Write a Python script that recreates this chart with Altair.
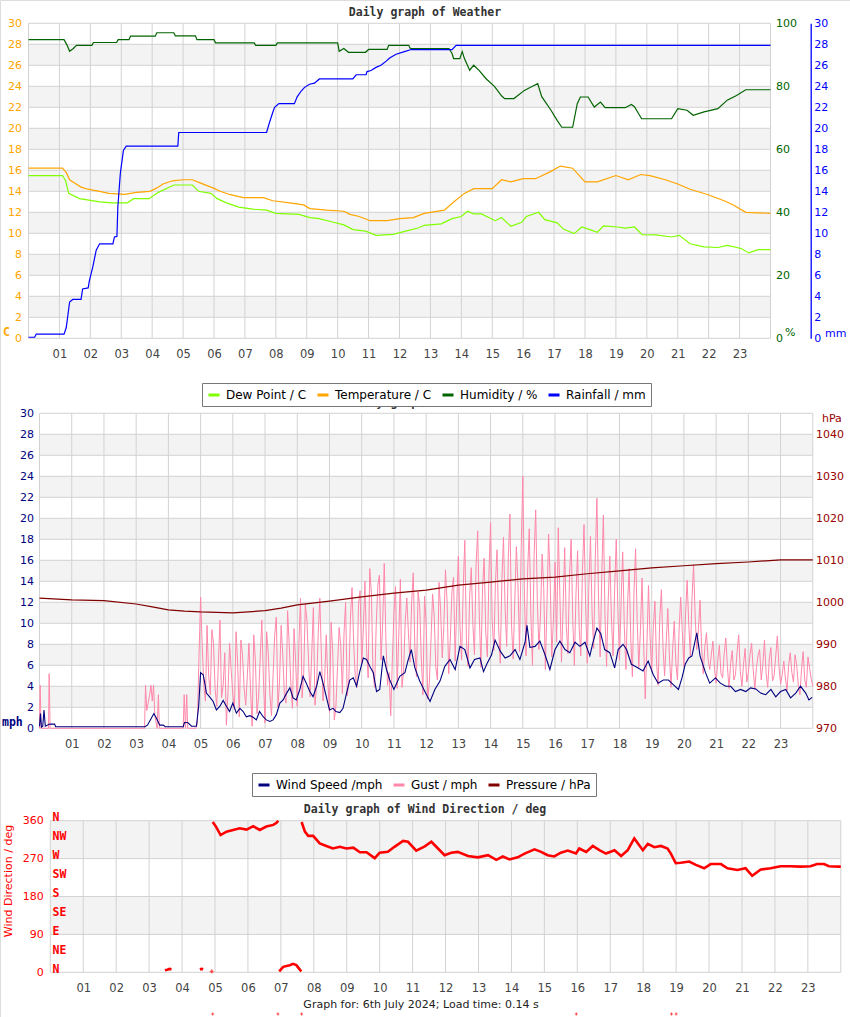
import altair as alt
import pandas as pd

W, H = 850, 1017
FONT = "DejaVu Sans"
MONO = "DejaVu Sans Mono"
GRID = "#d2d2d2"
BAND = "#f3f3f3"

# ------------------------------------------------------------------ data
HOURS = list(range(1, 24))
VHOURS = list(range(0, 25))

names1 = ["Dew Point / C", "Temperature / C", "Humidity / %", "Rainfall / mm"]
colors1 = ["#80ff00", "#ffa500", "#006400", "#0000ff"]
names2 = ["Wind Speed /mph", "Gust / mph", "Pressure / hPa"]
colors2 = ["#000080", "#ff88aa", "#800000"]

temp_h = [0, 1.1, 1.22, 1.33, 1.49, 1.7, 1.92, 2.3, 2.6, 3.1,
          3.5, 3.93, 4.14, 4.35, 4.66, 5.0, 5.3, 5.55, 5.98, 6.2,
          6.5, 6.95, 7.6, 7.9, 8.45, 8.9, 9.1, 9.65, 10.2, 10.4,
          10.7, 11.05, 11.6, 12.0, 12.45, 12.8, 13.45, 13.8, 14.1, 14.4,
          15.0, 15.3, 15.6, 16.0, 16.4, 16.9, 17.2, 17.6, 18.0, 18.4,
          19.0, 19.4, 19.8, 20.1, 20.6, 21.0, 21.4, 21.96, 22.5, 22.8,
          23.2, 24.0]
temp_v = [16.2, 16.2, 15.8, 15.1, 14.8, 14.4, 14.2, 14.0, 13.8, 13.7,
          13.9, 14.0, 14.3, 14.7, 15.0, 15.1, 15.1, 14.8, 14.3, 14.0,
          13.7, 13.4, 13.4, 13.1, 12.9, 12.7, 12.35, 12.2, 12.1, 11.8,
          11.6, 11.2, 11.2, 11.4, 11.5, 11.9, 12.2, 13.1, 13.8, 14.25,
          14.25, 15.1, 14.9, 15.2, 15.2, 15.9, 16.4, 16.2, 14.9, 14.9,
          15.5, 15.1, 15.6, 15.5, 15.1, 14.7, 14.2, 13.7, 13.1, 12.7,
          12.0, 11.9]

dew_h = [0, 1.1, 1.2, 1.3, 1.65, 2.3, 2.7, 3.2, 3.4, 3.9,
         4.2, 4.7, 5.3, 5.5, 5.9, 6.1, 6.4, 6.8, 7.25, 7.7,
         8.0, 8.75, 9.1, 9.4, 9.8, 10.2, 10.5, 10.9, 11.25, 11.8,
         12.2, 12.6, 12.8, 13.35, 13.7, 14.0, 14.2, 14.4, 14.65, 15.1,
         15.3, 15.6, 15.95, 16.1, 16.5, 16.7, 17.1, 17.3, 17.65, 17.9,
         18.2, 18.4, 18.6, 19.05, 19.3, 19.6, 19.85, 20.3, 20.8, 21.05,
         21.4, 21.85, 22.3, 22.6, 23.05, 23.3, 23.6, 24.0]
dew_v = [15.5, 15.5, 15.0, 13.8, 13.3, 13.0, 12.9, 12.9, 13.3, 13.3,
         13.9, 14.6, 14.6, 14.0, 13.8, 13.3, 12.9, 12.5, 12.3, 12.2,
         11.9, 11.8, 11.5, 11.4, 11.1, 10.8, 10.35, 10.2, 9.8, 9.9,
         10.2, 10.5, 10.76, 10.9, 11.4, 11.6, 12.1, 11.85, 11.85, 11.2,
         11.5, 10.67, 11.05, 11.6, 12.0, 11.3, 11.0, 10.4, 9.97, 10.6,
         10.3, 10.1, 10.7, 10.6, 10.5, 10.6, 9.87, 9.85, 9.65, 9.8,
         9.0, 8.7, 8.65, 8.85, 8.55, 8.13, 8.44, 8.44]

hum_pts = [(0, 94.8), (1.15, 94.8), (1.25, 93.0), (1.33, 91.1), (1.45, 92.0), (1.55, 93.0),
           (2.05, 93.0), (2.1, 93.9), (2.85, 93.9), (2.9, 94.8), (3.25, 94.8), (3.3, 95.9),
           (4.1, 95.9), (4.15, 97.0), (4.7, 97.0), (4.75, 96.0), (5.4, 96.0), (5.45, 94.8),
           (6.0, 94.8), (6.05, 93.8), (7.3, 93.8), (7.35, 93.0), (8.0, 93.0), (8.05, 93.8),
           (10.0, 93.8), (10.05, 91.1), (10.2, 92.0), (10.35, 90.8), (10.9, 90.8), (11.0, 91.7),
           (11.6, 91.7), (11.65, 93.0), (12.3, 93.0), (12.35, 92.0), (13.6, 92.0), (13.7, 90.4),
           (13.75, 88.8), (13.95, 88.8), (14.03, 91.0), (14.1, 88.8), (14.27, 85.1), (14.4, 86.7),
           (14.58, 85.0), (14.8, 82.4), (15.07, 80.0), (15.3, 77.0), (15.4, 76.1), (15.7, 76.1),
           (16.04, 78.7), (16.3, 80.0), (16.47, 80.85), (16.6, 76.7), (16.9, 72.4), (17.1, 69.2),
           (17.25, 67.0), (17.6, 67.0), (17.75, 74.5), (17.85, 76.6), (18.1, 76.6), (18.3, 73.4),
           (18.5, 75.0), (18.65, 73.2), (19.3, 73.2), (19.5, 74.2), (19.6, 73.5), (19.83, 69.7),
           (20.8, 69.7), (21.0, 72.9), (21.3, 72.4), (21.5, 70.8), (21.85, 71.9), (22.3, 72.9),
           (22.6, 75.6), (22.9, 77.1), (23.2, 78.9), (24.0, 78.9)]

rain_pts = [(0, 0.1), (0.2, 0.1), (0.25, 0.4), (1.15, 0.4), (1.22, 1.0), (1.33, 3.46), (1.43, 3.7),
            (1.7, 3.7), (1.75, 4.7), (1.93, 4.8), (1.97, 5.5), (2.08, 6.8), (2.19, 8.4), (2.3, 9.0),
            (2.73, 9.0), (2.78, 9.65), (2.86, 9.7), (2.89, 12.5), (2.97, 15.7), (3.07, 17.9),
            (3.16, 18.3), (4.83, 18.3), (4.86, 19.6), (7.7, 19.6), (7.8, 20.6), (7.9, 21.5),
            (7.96, 22.0), (8.1, 22.35), (8.6, 22.35), (8.69, 23.0), (8.82, 23.55), (8.93, 23.9),
            (9.09, 24.2), (9.25, 24.3), (9.41, 24.7), (10.49, 24.7), (10.6, 25.1), (10.92, 25.1),
            (10.95, 25.4), (11.08, 25.5), (11.24, 25.8), (11.4, 26.0), (11.57, 26.4), (11.68, 26.7),
            (11.89, 27.05), (12.16, 27.3), (12.38, 27.5), (13.7, 27.5), (13.83, 27.9), (24.0, 27.9)]

wind_pts = [(0.0, 0.2), (0.03, 1.4), (0.06, 0.1), (0.1, 0.2), (0.14, 1.75), (0.18, 0.2), (0.32, 0.4),
            (0.47, 0.4), (0.5, 0.15), (3.27, 0.15), (3.35, 0.3), (3.47, 0.95), (3.55, 1.4), (3.63, 0.95),
            (3.73, 0.3), (3.84, 0.3), (3.9, 0.15), (4.46, 0.15), (4.5, 0.55), (4.6, 0.55), (4.72, 0.2),
            (4.87, 0.2), (4.94, 2.1), (5.0, 5.3), (5.08, 5.1), (5.13, 4.3), (5.18, 3.35), (5.28, 3.0),
            (5.39, 2.55), (5.49, 1.75), (5.6, 2.1), (5.7, 2.65), (5.8, 2.1), (5.9, 1.6), (6.0, 2.4),
            (6.11, 1.45), (6.22, 1.9), (6.32, 1.6), (6.42, 1.1), (6.53, 1.2), (6.63, 1.05), (6.73, 0.8),
            (6.83, 1.6), (6.94, 1.1), (7.04, 0.8), (7.15, 0.65), (7.25, 0.8), (7.35, 1.3), (7.46, 2.4),
            (7.56, 2.7), (7.67, 3.35), (7.77, 3.85), (7.87, 2.9), (7.97, 2.7), (8.08, 3.7), (8.18, 4.95),
            (8.28, 4.3), (8.39, 3.5), (8.49, 3.0), (8.6, 4.0), (8.7, 5.4), (8.8, 4.3), (8.91, 2.9),
            (9.0, 1.75), (9.11, 1.9), (9.2, 1.6), (9.32, 1.5), (9.42, 1.9), (9.53, 3.35), (9.63, 4.6),
            (9.74, 4.8), (9.84, 4.0), (9.94, 5.4), (10.05, 6.7), (10.15, 6.55), (10.25, 5.9), (10.36, 5.3),
            (10.46, 3.5), (10.56, 3.7), (10.67, 6.9), (10.77, 5.6), (10.87, 4.6), (11.0, 3.7), (11.18, 4.95),
            (11.34, 5.3), (11.44, 6.5), (11.54, 7.5), (11.65, 5.75), (11.8, 4.5), (11.96, 3.5), (12.12, 2.55),
            (12.27, 3.7), (12.43, 4.5), (12.58, 5.9), (12.74, 6.55), (12.9, 5.6), (13.05, 7.8), (13.2, 7.5),
            (13.36, 5.75), (13.5, 6.55), (13.67, 6.7), (13.78, 5.4), (13.88, 6.1), (14.03, 7.0), (14.14, 8.4),
            (14.3, 7.35), (14.45, 6.7), (14.6, 6.9), (14.76, 7.5), (14.91, 6.55), (15.07, 8.2), (15.13, 9.8),
            (15.22, 7.7), (15.38, 7.8), (15.53, 8.3), (15.69, 7.0), (15.84, 5.6), (16.0, 7.5), (16.15, 8.3),
            (16.31, 7.5), (16.46, 7.2), (16.62, 8.2), (16.77, 7.8), (16.93, 8.2), (17.08, 6.9), (17.18, 8.2),
            (17.3, 9.55), (17.42, 9.0), (17.54, 7.5), (17.7, 7.2), (17.85, 5.75), (17.96, 7.5), (18.11, 8.0),
            (18.22, 7.5), (18.37, 6.1), (18.58, 5.75), (18.73, 5.45), (18.89, 6.4), (19.05, 5.1), (19.2, 4.3),
            (19.36, 4.6), (19.52, 4.6), (19.67, 4.15), (19.83, 3.7), (19.94, 4.8), (20.04, 6.1), (20.15, 6.7),
            (20.25, 6.9), (20.4, 9.1), (20.5, 6.9), (20.67, 5.3), (20.8, 4.3), (20.98, 4.8), (21.13, 4.3),
            (21.3, 4.0), (21.45, 4.0), (21.6, 3.5), (21.76, 3.7), (21.92, 3.5), (22.07, 3.85), (22.23, 3.75),
            (22.38, 3.35), (22.54, 3.2), (22.7, 3.7), (22.85, 3.0), (23.0, 3.5), (23.16, 3.7), (23.31, 2.9),
            (23.47, 3.35), (23.62, 4.0), (23.78, 3.35), (23.88, 2.7), (23.98, 2.95)]

gust_early = [(0.0, 0), (0.02, 4.1), (0.05, 0), (0.28, 0), (0.3, 5.2), (0.33, 0), (3.26, 0),
              (3.29, 4.1), (3.33, 1.7), (3.37, 2.4), (3.42, 3.2), (3.46, 4.1), (3.5, 2.6), (3.54, 4.1),
              (3.58, 1.2), (3.65, 0), (3.69, 3.2), (3.72, 0), (4.46, 0), (4.49, 3.2), (4.53, 0),
              (4.57, 3.2), (4.6, 0), (4.85, 0)]
gust_start, gust_step = 4.9, 0.1   # sampling grid of the readings below (mid readings sit half a step later)
gust_v = [0.5, 12.5, 4.1, 9.8, 3.2, 8.1, 2.1, 10.3, 4.1, 0.3,
          8.1, 3.2, 9.2, 1.1, 7.0, 2.2, 8.1, 0.2, 6.5, 3.0,
          10.3, 0.5, 7.1, 1.2, 8.9, 2.0, 9.8, 3.2, 11.2, 4.3,
          9.5, 2.1, 12.4, 5.2, 10.3, 3.0, 11.5, 4.1, 12.4, 2.6,
          8.9, 1.5, 7.4, 2.1, 9.6, 3.3, 12.0, 4.5, 13.4, 5.0,
          11.8, 6.1, 14.0, 4.8, 12.9, 3.9, 13.6, 6.5, 15.7, 4.1,
          1.2, 11.0, 3.8, 14.2, 5.5, 12.4, 6.3, 14.8, 4.9, 11.6,
          3.2, 10.1, 4.4, 12.8, 5.8, 13.9, 6.7, 15.1, 5.2, 13.0,
          6.4, 16.4, 6.5, 17.9, 5.9, 15.3, 7.0, 18.8, 5.8, 16.2,
          6.8, 19.6, 7.4, 17.0, 6.2, 18.2, 7.8, 20.4, 6.6, 17.3,
          7.3, 24.0, 6.9, 19.0, 6.0, 20.8, 7.5, 16.6, 5.6, 18.5,
          6.8, 15.8, 19.1, 6.3, 17.2, 7.1, 18.0, 6.0, 16.9, 6.9,
          19.4, 6.2, 18.3, 7.6, 21.9, 6.8, 20.3, 5.9, 16.4, 6.9,
          18.0, 6.5, 16.8, 5.6, 15.2, 4.9, 17.1, 5.8, 14.3, 2.8,
          13.6, 5.4, 12.1, 4.1, 13.2, 5.0, 11.4, 3.9, 10.2, 4.6,
          12.5, 5.9, 14.1, 6.8, 15.6, 7.5, 12.2, 5.2, 9.1, 5.6,
          8.3, 4.3, 7.9, 4.8, 8.6, 3.8, 7.4, 5.1, 8.9, 4.0,
          7.6, 5.3, 8.1, 3.7, 6.9, 4.6, 8.4, 3.9, 7.7, 5.0,
          8.8, 4.2, 6.4, 3.6, 7.2, 4.4, 6.0, 3.2, 7.3, 3.9,
          5.8, 4.0]
gust_mid = [6.8, 7.9, 2.6, 5.0, 9.4, 3.8, 6.0, 2.9, 7.2, 3.4,
            5.5, 1.8, 6.2, 8.4, 3.9, 5.0, 3.6, 8.9, 1.4, 6.7,
            4.6, 9.2, 3.3, 5.1, 10.6, 4.4, 7.0, 2.4, 8.0, 1.9,
            6.3, 8.0, 2.9, 11.8, 6.4, 7.2, 2.2, 9.0, 6.8, 4.7,
            4.4, 10.1, 0.8, 5.9, 7.8, 9.0, 3.1, 10.5, 8.2, 3.9,
            13.1, 9.4, 7.6, 15.2, 5.4, 9.8, 14.6, 10.0, 8.6, 5.3,
            6.4, 13.5, 8.8, 3.9, 10.2, 9.1, 12.0, 7.7, 13.0, 6.6,
            12.6, 2.8, 8.3, 10.7, 4.6, 11.2, 9.8, 12.0, 8.5, 14.4,
            11.9, 9.7, 13.3, 8.4, 12.6, 9.9, 15.6, 10.7, 13.4, 9.1,
            14.8, 10.2, 13.9, 9.6, 14.1, 11.5, 16.3, 9.8, 12.0, 13.6,
            17.2, 12.5, 15.1, 10.8, 16.4, 12.2, 11.0, 13.3, 11.9, 14.0,
            10.4, 8.2, 12.7, 11.5, 9.8, 14.6, 10.3, 12.8, 9.5, 14.9,
            11.7, 13.6, 10.9, 16.2, 12.4, 14.5, 10.8, 12.1, 10.6, 13.2,
            11.4, 12.0, 9.7, 11.8, 8.6, 12.9, 10.2, 9.3, 8.1, 7.7,
            8.7, 9.6, 6.3, 10.4, 7.8, 8.2, 6.9, 7.5, 6.2, 9.3,
            9.2, 10.8, 9.9, 12.3, 10.6, 9.4, 7.6, 7.8, 6.6, 7.0,
            5.6, 6.4, 5.2, 7.1, 5.9, 6.2, 4.6, 7.3, 5.4, 6.1,
            4.4, 7.0, 5.6, 5.8, 7.5, 6.1, 5.3, 6.6, 4.5, 6.9,
            5.9, 5.1, 4.8, 6.0, 5.3, 7.0, 4.1, 5.6, 4.6, 6.8,
            4.7]

press_h = [0, 1, 2, 3, 3.5, 4, 4.5, 5, 6, 7, 7.5, 8, 9, 10, 11, 12, 13, 14, 15, 16, 17, 18, 19, 20,
           21, 22, 23, 24]
press_v = [1001.0, 1000.6, 1000.4, 999.6, 998.9, 998.2, 997.9, 997.7, 997.5, 998.0, 998.6, 999.4,
           1000.3, 1001.3, 1002.2, 1002.9, 1004.1, 1004.8, 1005.6, 1006.0, 1006.8, 1007.5, 1008.2,
           1008.7, 1009.2, 1009.6, 1010.1, 1010.1]

dir_segments = [
    [(3.48, 5), (3.55, 6), (3.62, 8), (3.68, 7)],
    [(4.54, 7), (4.6, 8), (4.64, 7)],
    [(4.93, 357), (5.03, 346), (5.17, 326), (5.35, 334), (5.55, 338), (5.75, 342), (5.96, 339),
     (6.16, 347), (6.36, 338), (6.56, 346), (6.77, 350), (6.87, 355), (6.92, 360)],
    [(6.95, 2), (7.07, 13), (7.27, 17), (7.37, 20), (7.47, 17), (7.57, 7), (7.62, 2)],
    [(7.63, 357), (7.73, 334), (7.83, 324), (7.98, 324), (8.18, 306), (8.38, 300), (8.58, 294),
     (8.79, 298), (8.99, 294), (9.2, 296), (9.4, 285), (9.6, 285), (9.85, 271), (10.0, 284),
     (10.25, 286), (10.45, 298), (10.71, 312), (10.86, 310), (11.11, 289), (11.37, 299), (11.57, 310),
     (11.77, 294), (11.97, 278), (12.17, 284), (12.37, 286), (12.68, 276), (12.98, 273), (13.29, 278),
     (13.54, 267), (13.74, 275), (13.94, 268), (14.19, 273), (14.4, 282), (14.7, 292), (14.9, 286),
     (15.1, 278), (15.3, 275), (15.5, 284), (15.71, 289), (15.96, 282), (16.06, 294), (16.27, 286),
     (16.47, 300), (16.67, 290), (16.87, 282), (17.13, 290), (17.33, 276), (17.53, 290), (17.73, 318),
     (17.99, 290), (18.14, 305), (18.34, 297), (18.54, 300), (18.74, 294), (18.84, 282), (18.99, 259),
     (19.14, 260), (19.4, 263), (19.6, 255), (19.85, 247), (20.05, 257), (20.36, 257), (20.56, 247),
     (20.86, 243), (21.11, 247), (21.31, 229), (21.57, 244), (21.87, 247), (22.17, 252), (22.47, 252),
     (22.78, 251), (23.08, 252), (23.28, 257), (23.49, 257), (23.64, 252), (23.94, 251), (24.0, 251)],
]
dir_single = [(4.9, 2)]
dir_marks_h = [4.93, 6.91, 7.63, 15.97, 18.86, 19.0]
dir_marks_v = [-99, -99, -99, -99, -99, -99]

band_lo_1 = [2, 6, 10, 14, 18, 22, 26]
band_hi_1 = [4, 8, 12, 16, 20, 24, 28]
hlines_1 = list(range(0, 31, 2))
band_lo_3 = [90, 270]
band_hi_3 = [180, 360]
hlines_3 = [0, 90, 180, 270, 360]
compass = ["N", "NE", "E", "SE", "S", "SW", "W", "NW", "N"]

# ------------------------------------------------------------------ frames
def frame(pairs, name):
    return pd.DataFrame({"hour": [p[0] for p in pairs], "value": [p[1] for p in pairs], "series": name})

temp_df = frame(list(zip(temp_h, temp_v)), names1[1])
dew_df = frame(list(zip(dew_h, dew_v)), names1[0])
hum_df = frame(hum_pts, names1[2])
rain_df = frame(rain_pts, names1[3])
wind_df = frame(wind_pts, names2[0])
gust_pairs = list(gust_early)
for i, v in enumerate(gust_v):
    t = round(gust_start + gust_step * i, 3)
    gust_pairs.append((t, v))
    if i < len(gust_mid):
        gust_pairs.append((round(t + gust_step / 2, 3), gust_mid[i]))
gust_df = frame(gust_pairs, names2[1])
press_df = frame(list(zip(press_h, press_v)), names2[2])
dir_rows = []
for k, seg in enumerate(dir_segments):
    for h, d in seg:
        dir_rows.append({"hour": h, "value": d, "seg": k})
dir_df = pd.DataFrame(dir_rows)
dir_pt_df = frame(dir_single, "dir")
dir_mk_df = frame(list(zip(dir_marks_h, dir_marks_v)), "mark")

# ------------------------------------------------------------------ scales
def sc(domain, rng):
    return alt.Scale(domain=domain, range=rng, nice=False, zero=False)

X1 = sc([0, 24], [28.5, 770.5])
T1 = sc([0, 30], [338.3, 23.3])
HU1 = sc([0, 100], [338.3, 23.3])
X2 = sc([0, 24], [39.5, 812.8])
M2 = sc([0, 30], [728.3, 413.3])
P2 = sc([970, 1045], [728.3, 413.3])
X3 = sc([0, 24], [50.3, 840.8])
D3 = sc([0, 360], [972.3, 820.7])

LABX = "datum.value < 10 ? '0' + datum.value : '' + datum.value"


def xax(base_y):
    return alt.Axis(orient="bottom", offset=round(base_y - H, 1), values=HOURS, labelExpr=LABX,
                    domain=False, ticks=False, tickSize=0, grid=False, labelPadding=10,
                    labelFont=FONT, labelFontSize=11.5, labelColor="#444", labelFlush=False,
                    labelOverlap=False, labelBound=False, title=None)


def yax(orient, xpos, values, color, pad, domain_color=None, **extra):
    off = -xpos if orient == "left" else xpos - W
    props = dict(orient=orient, offset=round(off, 1), values=values, domain=domain_color is not None,
                 ticks=False, tickSize=0, grid=False, labelPadding=pad, labelFont=FONT,
                 labelFontSize=11, labelColor=color, labelFlush=False, labelOverlap=False,
                 labelBound=False, title=None, zindex=1)
    if domain_color:
        props.update(domainColor=domain_color, domainWidth=1.3)
    props.update(extra)
    return alt.Axis(**props)


def panel(xs, ys, lo, hi, blo, bhi, hl, vaxis=None):
    bands = pd.DataFrame({"a": 0, "b": 24, "lo": blo, "hi": bhi})
    rect = alt.Chart(bands).mark_rect(color=BAND).encode(
        x=alt.X("a:Q", scale=xs, axis=None), x2="b:Q",
        y=alt.Y("lo:Q", scale=ys, axis=None), y2="hi:Q")
    vdf = pd.DataFrame({"h": VHOURS, "lo": lo, "hi": hi})
    vr = alt.Chart(vdf).mark_rule(color=GRID, strokeWidth=1).encode(
        x=alt.X("h:Q", scale=xs, axis=None),
        y=alt.Y("lo:Q", scale=ys, axis=vaxis), y2="hi:Q")
    hdf = pd.DataFrame({"v": hl, "a": 0, "b": 24})
    hr = alt.Chart(hdf).mark_rule(color=GRID, strokeWidth=1).encode(
        x=alt.X("a:Q", scale=xs, axis=None), x2="b:Q",
        y=alt.Y("v:Q", scale=ys, axis=None))
    return [rect, vr, hr]


def label(text, x, y, color="#333", font=FONT, size=11, weight="normal", align="left",
          baseline="middle", angle=0):
    return alt.Chart(pd.DataFrame({"t": [text]})).mark_text(
        font=font, fontSize=size, fontWeight=weight, color=color, align=align,
        baseline=baseline, angle=angle).encode(x=alt.value(x), y=alt.value(y), text="t:N")


def legend(x, y):
    return alt.Legend(orient="none", legendX=x, legendY=y, direction="horizontal", columns=4,
                      title=None, symbolType="stroke", symbolSize=121, symbolStrokeWidth=3,
                      labelFont=FONT, labelFontSize=12, labelColor="#000", labelOffset=5,
                      columnPadding=4, padding=5, strokeColor="#777", fillColor="white")


col1 = alt.Color("series:N", scale=alt.Scale(domain=names1, range=colors1), legend=legend(202, 383))
col2 = alt.Stroke("series:N", scale=alt.Scale(domain=names2, range=colors2), legend=legend(252, 773))

# ------------------------------------------------------------------ chart 1
layers = []
layers += panel(X1, T1, 0, 30, band_lo_1, band_hi_1, hlines_1)
layers.append(alt.Chart(dew_df).mark_line(strokeWidth=1.2).encode(
    x=alt.X("hour:Q", scale=X1, axis=None), y=alt.Y("value:Q", scale=T1, axis=None), color=col1))
layers.append(alt.Chart(temp_df).mark_line(strokeWidth=1.2).encode(
    x=alt.X("hour:Q", scale=X1, axis=xax(338.3)),
    y=alt.Y("value:Q", scale=T1, axis=yax("left", 28.5, hlines_1, "#ffa500", 7)), color=col1))
layers.append(alt.Chart(hum_df).mark_line(strokeWidth=1.2).encode(
    x=alt.X("hour:Q", scale=X1, axis=None),
    y=alt.Y("value:Q", scale=HU1, axis=yax("right", 770.5, [0, 20, 40, 60, 80, 100], "#006400", 5)),
    color=col1))
layers.append(alt.Chart(rain_df).mark_line(strokeWidth=1.2).encode(
    x=alt.X("hour:Q", scale=X1, axis=None),
    y=alt.Y("value:Q", scale=T1, axis=yax("right", 810.7, hlines_1, "#0000ff", 3, domain_color="#0000ff")),
    color=col1))
layers.append(label("Daily graph of Weather", 425, 15.5, font=MONO, size=11.5, weight="bold",
                    align="center", baseline="alphabetic"))
layers.append(label("C", 3, 333, color="#ffa500", font=MONO, size=11.5, weight="bold"))
layers.append(label("%", 785, 333, color="#006400"))
layers.append(label("mm", 825, 333.5, color="#0000ff"))

# ------------------------------------------------------------------ chart 2
layers += panel(X2, M2, 0, 30, band_lo_1, band_hi_1, hlines_1)
layers.append(label("Daily graph of Weather", 425, 405.5, font=MONO, size=11.5, weight="bold",
                    align="center", baseline="alphabetic"))
layers.append(alt.Chart(gust_df).mark_line(strokeWidth=1).encode(
    x=alt.X("hour:Q", scale=X2, axis=None), y=alt.Y("value:Q", scale=M2, axis=None), stroke=col2))
layers.append(alt.Chart(wind_df).mark_line(strokeWidth=1.1).encode(
    x=alt.X("hour:Q", scale=X2, axis=xax(728.3)),
    y=alt.Y("value:Q", scale=M2, axis=yax("left", 39.5, hlines_1, "#000080", 6)), stroke=col2))
layers.append(alt.Chart(press_df).mark_line(strokeWidth=1.2).encode(
    x=alt.X("hour:Q", scale=X2, axis=None),
    y=alt.Y("value:Q", scale=P2, axis=yax("right", 812.5, list(range(970, 1041, 10)), "#990000", 3,
                                           format="d")),
    stroke=col2))
layers.append(label("mph", 2, 722.5, color="#000080", font=MONO, size=11.5, weight="bold"))
layers.append(label("hPa", 822, 419, color="#990000"))

# ------------------------------------------------------------------ chart 3
compass_axis = yax("left", 52, list(range(0, 361, 45)), "#ff0000", 0, labelAlign="left",
                   labelFont=MONO, labelFontWeight="bold", labelFontSize=11.5, labelOffset=-3,
                   labelExpr="['N','NE','E','SE','S','SW','W','NW','N'][round(datum.value / 45)]")
layers += panel(X3, D3, 0, 360, band_lo_3, band_hi_3, hlines_3, vaxis=compass_axis)
layers.append(alt.Chart(dir_df).mark_line(color="#ff0000", strokeWidth=2.6).encode(
    x=alt.X("hour:Q", scale=X3, axis=xax(972.3)),
    y=alt.Y("value:Q", scale=D3, axis=yax("left", 50.3, hlines_3, "#ff0000", 7)),
    detail="seg:N"))
layers.append(alt.Chart(dir_pt_df).mark_point(shape="cross", filled=True, size=14, color="#ff0000").encode(
    x=alt.X("hour:Q", scale=X3, axis=None), y=alt.Y("value:Q", scale=D3, axis=None)))
layers.append(alt.Chart(dir_mk_df).mark_point(shape="cross", filled=True, size=8, color="#ff0000").encode(
    x=alt.X("hour:Q", scale=X3, axis=None), y=alt.Y("value:Q", scale=D3, axis=None)))
layers.append(label("Daily graph of Wind Direction / deg", 425, 812.7, font=MONO, size=11.5,
                    weight="bold", align="center", baseline="alphabetic"))
layers.append(label("Wind Direction / deg", 9, 881, color="#ff0000", align="center", angle=270))
layers.append(label("Graph for: 6th July 2024; Load time: 0.14 s", 421, 1005, color="#222",
                    align="center"))

chart = alt.layer(*layers).resolve_scale(x="independent", y="independent").properties(
    width=W, height=H, padding=0, autosize=alt.AutoSizeParams(type="none")
).configure_view(stroke=None).configure(background="white")

chart.save("out.html", embed_options={"renderer": "svg", "actions": False})
